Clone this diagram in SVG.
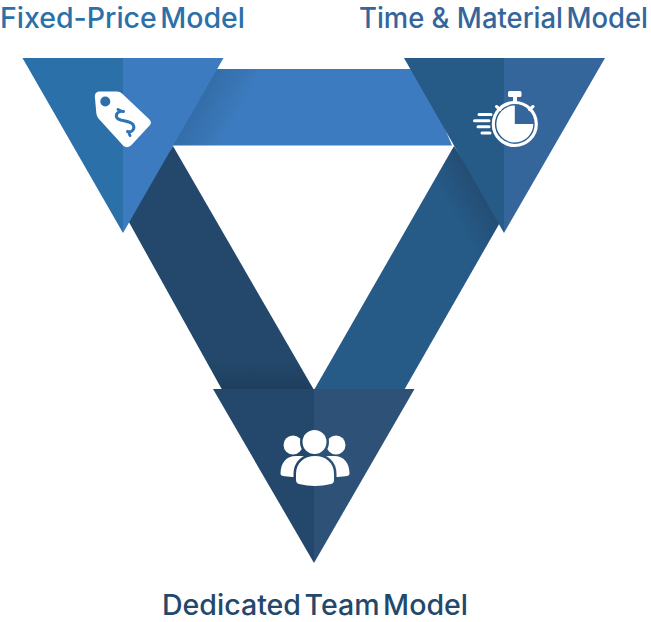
<svg xmlns="http://www.w3.org/2000/svg" width="651" height="622" viewBox="0 0 651 622">
<style>
.t{font-family:"Inter","Liberation Sans",sans-serif;font-size:28px;font-weight:500;word-spacing:-4px}
.w{fill:#fff}
</style>
<defs>
<linearGradient id="gh" gradientUnits="userSpaceOnUse" x1="199" y1="100" x2="234" y2="120"><stop offset="0" stop-color="#346da8"/><stop offset="1" stop-color="#3c7bbf"/></linearGradient>
<linearGradient id="gl" gradientUnits="userSpaceOnUse" x1="0" y1="360" x2="0" y2="390"><stop offset="0" stop-color="#23486b"/><stop offset="1" stop-color="#1f3e5e"/></linearGradient>
<linearGradient id="gr" gradientUnits="userSpaceOnUse" x1="450" y1="207" x2="480" y2="190"><stop offset="0" stop-color="#265a87"/><stop offset="1" stop-color="#244d74"/></linearGradient>
<mask id="m" maskUnits="userSpaceOnUse" x="270" y="420" width="90" height="75">
<rect x="270" y="420" width="90" height="75" fill="#fff"/>
<circle cx="314.5" cy="442" r="14.5" fill="#000"/>
<path d="M296 486V474C296 463 304 456 315 456C326 456 334 463 334 474V486Z" fill="#000" stroke="#000" stroke-width="5"/>
</mask>
</defs>
<g id="connectors">
<polygon id="band-top" points="190,69 420,69 452,145.500 172,145.500" fill="url(#gh)"/>
<polygon id="band-left" points="173,146 314,390 225,395 125,215" fill="url(#gl)"/>
<polygon id="band-right" points="454,146 314,390 403,392 502,219" fill="url(#gr)"/>
</g>
<g id="node-fixed">
<polygon points="22.500,58 123,58 123,233" fill="#2b70a9"/>
<polygon points="123,58 223.500,58 123,233" fill="#3c7bbf"/>
<path class="w" d="M99 91.500L117 91.500Q120 91.500 122 93.500L149.500 119.500Q152 122.500 150 125L131 145.500Q127 148.500 123.500 146L98.500 118.500Q96.500 116 96.300 113L94.800 96Q95 92 99 91.500Z"/>
<circle cx="105.300" cy="101.500" r="5" fill="#2b70a9"/>
<path d="M123.500 111.500C119 110.500 115.500 113.500 116.500 117C118 122 129 119.500 133 124.500C135.500 128.500 132 133 127.500 131.500M118 109.500L121 111M128.500 132L130 135.500" fill="none" stroke="#2f74b3" stroke-width="3" stroke-linecap="round"/>
<text class="t" x="0" y="28" fill="#2b70a9" textLength="245" lengthAdjust="spacingAndGlyphs">Fixed-Price Model</text>
</g>
<g id="node-time">
<polygon points="404,58 504,58 504,233" fill="#265a87"/>
<polygon points="504,58 605,58 504,233" fill="#34669b"/>
<circle cx="514.800" cy="124" r="21.500" fill="none" stroke="#fff" stroke-width="3.200"/>
<path class="w" d="M514.800 105.500V124H533.300A18.500 18.500 0 1 1 514.800 105.500Z"/>
<rect class="w" x="508" y="91" width="13.500" height="6" rx="1.500"/>
<rect class="w" x="513" y="96" width="4" height="7"/>
<path d="M496.500 106.500L500 109.500M533 106.500L529.500 109.500" stroke="#fff" stroke-width="3" stroke-linecap="round"/>
<path d="M479 114.500H491M474.500 120.700H489M478 126.800H489M482 133H490" stroke="#fff" stroke-width="3" stroke-linecap="round"/>
<text class="t" x="359" y="28" fill="#34669b" textLength="289" lengthAdjust="spacingAndGlyphs"><tspan style="word-spacing:0">Time &amp; </tspan>Material Model</text>
</g>
<g id="node-team">
<polygon points="213,389 314,389 314,563" fill="#23486b"/>
<polygon points="314,389 414.500,389 314,563" fill="#2e5277"/>
<g mask="url(#m)" class="w">
<circle cx="293" cy="445" r="9.500"/>
<circle cx="336" cy="445" r="9.500"/>
<path d="M280.500 474C280.500 463 286 456 296 456H304V477C296 477 288 477 283 476Q280.500 475.500 280.500 474Z"/>
<path d="M349.500 474C349.500 463 344 456 334 456H326V477C334 477 342 477 347 476Q349.500 475.500 349.500 474Z"/>
</g>
<circle class="w" cx="314.500" cy="442" r="12"/>
<path class="w" d="M296 480V474C296 463 304 456 315 456C326 456 334 463 334 474V480Q334 483 331 484Q315 488 299 484Q296 483 296 480Z"/>
<text class="t" x="162" y="615" fill="#23486b" textLength="306" lengthAdjust="spacingAndGlyphs">Dedicated Team Model</text>
</g>
</svg>
